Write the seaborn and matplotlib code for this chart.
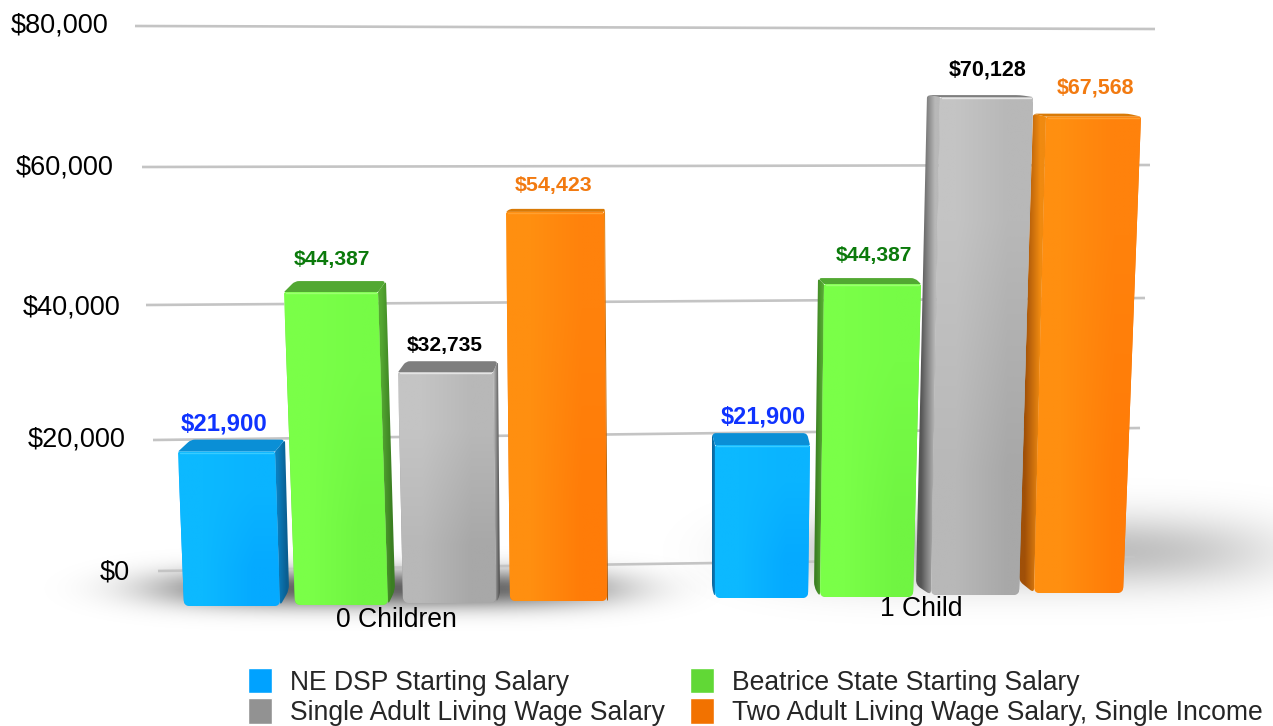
import matplotlib

matplotlib.use("Agg")
import matplotlib.pyplot as plt
import numpy as np
import pandas as pd
import seaborn as sns
from matplotlib.patches import PathPatch
from matplotlib.path import Path

WIDTH, HEIGHT = 1273, 726
PX_PER_THOUSAND = 7.05

groups = ["0 Children", "1 Child"]
series = [
    "NE DSP Starting Salary",
    "Beatrice State Starting Salary",
    "Single Adult Living Wage Salary",
    "Two Adult Living Wage Salary, Single Income",
]
ne_dsp = [21900, 21900]
beatrice = [44387, 44387]
single_adult = [32735, 70128]
two_adult = [54423, 67568]
tick_labels = ["$80,000", "$60,000", "$40,000", "$20,000", "$0"]

legend_colors = ["#00A2FF", "#61D836", "#929292", "#F27200"]
label_colors = ["#0F33FF", "#0B7A0B", "#000000", "#F27A10"]
# face corner colours: top-left, top-right, bottom-left, bottom-right
face_colors = [
    ["#0CB9FF", "#0AB4FF", "#0CB9FF", "#05AAFF"],
    ["#7AFF48", "#76FC46", "#7AFF48", "#70F542"],
    ["#C4C4C4", "#B8B8B8", "#B8B8B8", "#A8A8A8"],
    ["#FF8F10", "#FF820C", "#FF8F10", "#FF7C08"],
]
side_colors = [
    ("#0A5F92", "#0A7FC0"),
    ("#3B7F22", "#55A832"),
    ("#555555", "#B8B8B8"),
    ("#A05008", "#F08A10"),
]
top_colors = ["#0A8FD6", "#52A832", "#7E7E7E", "#D97A06"]
highlight_colors = ["#38CCFF", "#9CFF70", "#E4E4E4", "#FFA030"]

# layout in reference pixels, one row per bar: front top left/right,
# front bottom left/right, baseline, top depth, back shift top, back shift bottom,
# side rise, vertical scale
bar_layout = {
    (0, 0): (178, 275, 184, 280, 606, 12, 10, 9, 16, 7.05),
    (0, 1): (284, 378, 295, 388, 605, 11, 8, 7, 15, 7.05),
    (0, 2): (398, 493, 403, 496, 603, 11, 5, 4, 8, 7.05),
    (0, 3): (506, 604, 510, 607, 601, 3, 1, 1, 1, 7.15),
    (1, 0): (715, 810, 715, 808, 598, 12, -3, -3, 10, 6.98),
    (1, 1): (824, 921, 820, 913, 597, 6, -6, -6, 10, 7.05),
    (1, 2): (940, 1033, 931, 1019, 595, 2, -13, -15, 10, 7.10),
    (1, 3): (1046, 1141, 1034, 1123, 593, 3, -13, -15, 12, 7.05),
}
label_pos = {
    (0, 0): (224, 424, 17.2),
    (0, 1): (332, 259, 15.2),
    (0, 2): (445, 345, 15.1),
    (0, 3): (554, 185, 15.4),
    (1, 0): (763, 417, 16.9),
    (1, 1): (874, 256, 15.2),
    (1, 2): (988, 70, 15.5),
    (1, 3): (1095, 88, 15.5),
}
grid_lines = [
    (135, 26, 1155, 29),
    (142, 167, 1150, 165),
    (146, 305, 1145, 298),
    (153, 440, 1140, 428),
    (158, 571, 1135, 557),
]
tick_pos = [(108, 26), (114, 167), (120, 307), (126, 440), (130, 572)]


def px_to_value(py):
    """Convert a reference pixel row to a dollar value on the front plane."""
    return (600 - py) / PX_PER_THOUSAND * 1000


def rounded_path(points, radii):
    """Build a closed path through points with rounded corners."""
    verts, codes = [], []
    n = len(points)
    for i in range(n):
        p = np.array(points[i], float)
        a = np.array(points[i - 1], float)
        b = np.array(points[(i + 1) % n], float)
        la, lb = np.linalg.norm(a - p), np.linalg.norm(b - p)
        r = min(radii[i], la / 2, lb / 2)
        start = p + (a - p) / la * r
        end = p + (b - p) / lb * r
        verts.append(start)
        codes.append(Path.MOVETO if i == 0 else Path.LINETO)
        verts += [p, end]
        codes += [Path.CURVE3, Path.CURVE3]
    verts.append(verts[0])
    codes.append(Path.CLOSEPOLY)
    return Path([(x, px_to_value(y)) for x, y in verts], codes)


def soft_shadow(ax, cx, cy, sx, sy, strength):
    """Draw a blurred floor shadow behind the bars."""
    xx, yy = np.meshgrid(np.arange(0, WIDTH, 3), np.arange(0, HEIGHT, 3))
    alpha = np.exp(-(((xx - cx) / sx) ** 4) - (((yy - cy) / sy) ** 2)) * strength
    rgba = np.zeros(xx.shape + (4,))
    rgba[..., 3] = alpha
    ax.imshow(
        rgba,
        extent=(0, WIDTH, px_to_value(HEIGHT), px_to_value(0)),
        origin="upper",
        aspect="auto",
        interpolation="bilinear",
        zorder=1,
    )


def gradient(ax, colors, extent, path, zorder):
    """Paint a colour gradient clipped to a path."""
    rgb = np.array([matplotlib.colors.to_rgb(c) for c in colors]).reshape(2, 2, 3)
    im = ax.imshow(
        rgb,
        extent=extent,
        origin="upper",
        aspect="auto",
        interpolation="bilinear",
        zorder=zorder,
    )
    im.set_clip_path(path, transform=ax.transData)


def style_bar(ax, bar, g, s, zorder):
    """Move one seaborn bar to its place and give it its bevelled look."""
    ftl, ftr, fbl, fbr, base, depth, dx_top, dx_bot, rise, scale = bar_layout[(g, s)]
    value = bar.get_height()
    top = base - scale * value / 1000
    front = [(ftl, top), (ftr, top), (fbr, base), (fbl, base)]
    front_path = rounded_path(front, [2, 2, 6, 6])

    bar.set_x(min(ftl, fbl))
    bar.set_width(max(ftr, fbr) - min(ftl, fbl))
    bar.set_y(px_to_value(base))
    bar.set_zorder(zorder)
    bar.set_clip_path(front_path, transform=ax.transData)

    # side face
    if dx_top >= 0:
        ex_top, ex_bot = ftr, fbr
    else:
        ex_top, ex_bot = ftl, fbl
    side = [
        (ex_top, top),
        (ex_top + dx_top, top - depth),
        (ex_bot + dx_bot, base - rise),
        (ex_bot, base),
    ]
    side_path = rounded_path(side, [1, 3, 5, 5])
    xs = [p[0] for p in side]
    c_out, c_in = side_colors[s]
    left_to_right = (c_in, c_out) if dx_top >= 0 else (c_out, c_in)
    gradient(
        ax,
        [left_to_right[0], left_to_right[1]] * 2,
        (min(xs) - 2, max(xs) + 2, px_to_value(base), px_to_value(top - depth)),
        side_path,
        zorder + 0.1,
    )

    # top face
    top_face = [
        (ftl, top),
        (ftl + dx_top + (3 if dx_top >= 0 else 0), top - depth),
        (ftr + dx_top, top - depth),
        (ftr, top),
    ]
    ax.add_patch(
        PathPatch(
            rounded_path(top_face, [1, 4, 4, 1]),
            facecolor=top_colors[s],
            edgecolor="none",
            zorder=zorder + 0.15,
        )
    )

    # front face
    xs = [p[0] for p in front]
    gradient(
        ax,
        face_colors[s],
        (min(xs), max(xs), px_to_value(base), px_to_value(top)),
        front_path,
        zorder + 0.2,
    )
    ax.plot(
        [ftl + 2, ftr - 2],
        [px_to_value(top + 1), px_to_value(top + 1)],
        color=highlight_colors[s],
        lw=1.0,
        zorder=zorder + 0.3,
    )


def main():
    sns.set_theme(style="white")
    plt.rcParams["font.family"] = ["Liberation Sans", "DejaVu Sans"]

    values = [ne_dsp, beatrice, single_adult, two_adult]
    frames = [
        pd.DataFrame({"group": groups, "salary": vals, "series": name})
        for name, vals in zip(series, values)
    ]
    df = pd.concat(frames, ignore_index=True)

    fig = plt.figure(figsize=(WIDTH / 100, HEIGHT / 100), dpi=100)
    ax = fig.add_axes([0, 0, 1, 1])
    sns.barplot(
        data=df,
        x="group",
        y="salary",
        hue="series",
        hue_order=series,
        palette=legend_colors,
        errorbar=None,
        ax=ax,
        saturation=1,
    )

    soft_shadow(ax, 385, 587, 228, 19, 0.62)
    soft_shadow(ax, 1020, 550, 250, 36, 0.26)

    for (x0, y0, x1, y1) in grid_lines:
        ax.plot(
            [x0, x1],
            [px_to_value(y0), px_to_value(y1)],
            color="#C4C4C4",
            lw=1.9,
            solid_capstyle="butt",
            zorder=2,
        )

    for s, container in enumerate(ax.containers):
        for g, bar in enumerate(container):
            # first group stacks left to right, second right to left
            order = 3 + s if g == 0 else 10 - s
            style_bar(ax, bar, g, s, order)
            x, y, size = label_pos[(g, s)]
            ax.text(
                x,
                px_to_value(y),
                f"${int(bar.get_height()):,}",
                color=label_colors[s],
                fontsize=size,
                fontweight="bold",
                ha="center",
                va="center",
                zorder=20,
            )

    for label, (x, y) in zip(tick_labels, tick_pos):
        ax.text(x, px_to_value(y), label, fontsize=19.5, color="black", ha="right", va="center")

    ax.text(396, px_to_value(620), groups[0], fontsize=19.1, color="black", ha="center", va="center", zorder=20)
    ax.text(921, px_to_value(609), groups[1], fontsize=19.1, color="black", ha="center", va="center", zorder=20)

    handles, labels = ax.get_legend_handles_labels()
    picks = [0, 2, 1, 3]
    ax.legend(
        [handles[i] for i in picks],
        [labels[i] for i in picks],
        ncol=2,
        frameon=False,
        loc="lower left",
        bbox_to_anchor=(248 / WIDTH, 0 / HEIGHT),
        borderaxespad=0,
        borderpad=0,
        fontsize=19.1,
        handlelength=0.9,
        handleheight=1.1,
        handletextpad=0.68,
        columnspacing=0.94,
        labelspacing=0.095,
    )

    ax.set_xlim(0, WIDTH)
    ax.set_ylim(px_to_value(HEIGHT), px_to_value(0))
    ax.set_axis_off()
    fig.savefig("out.png", dpi=100)


if __name__ == "__main__":
    main()
